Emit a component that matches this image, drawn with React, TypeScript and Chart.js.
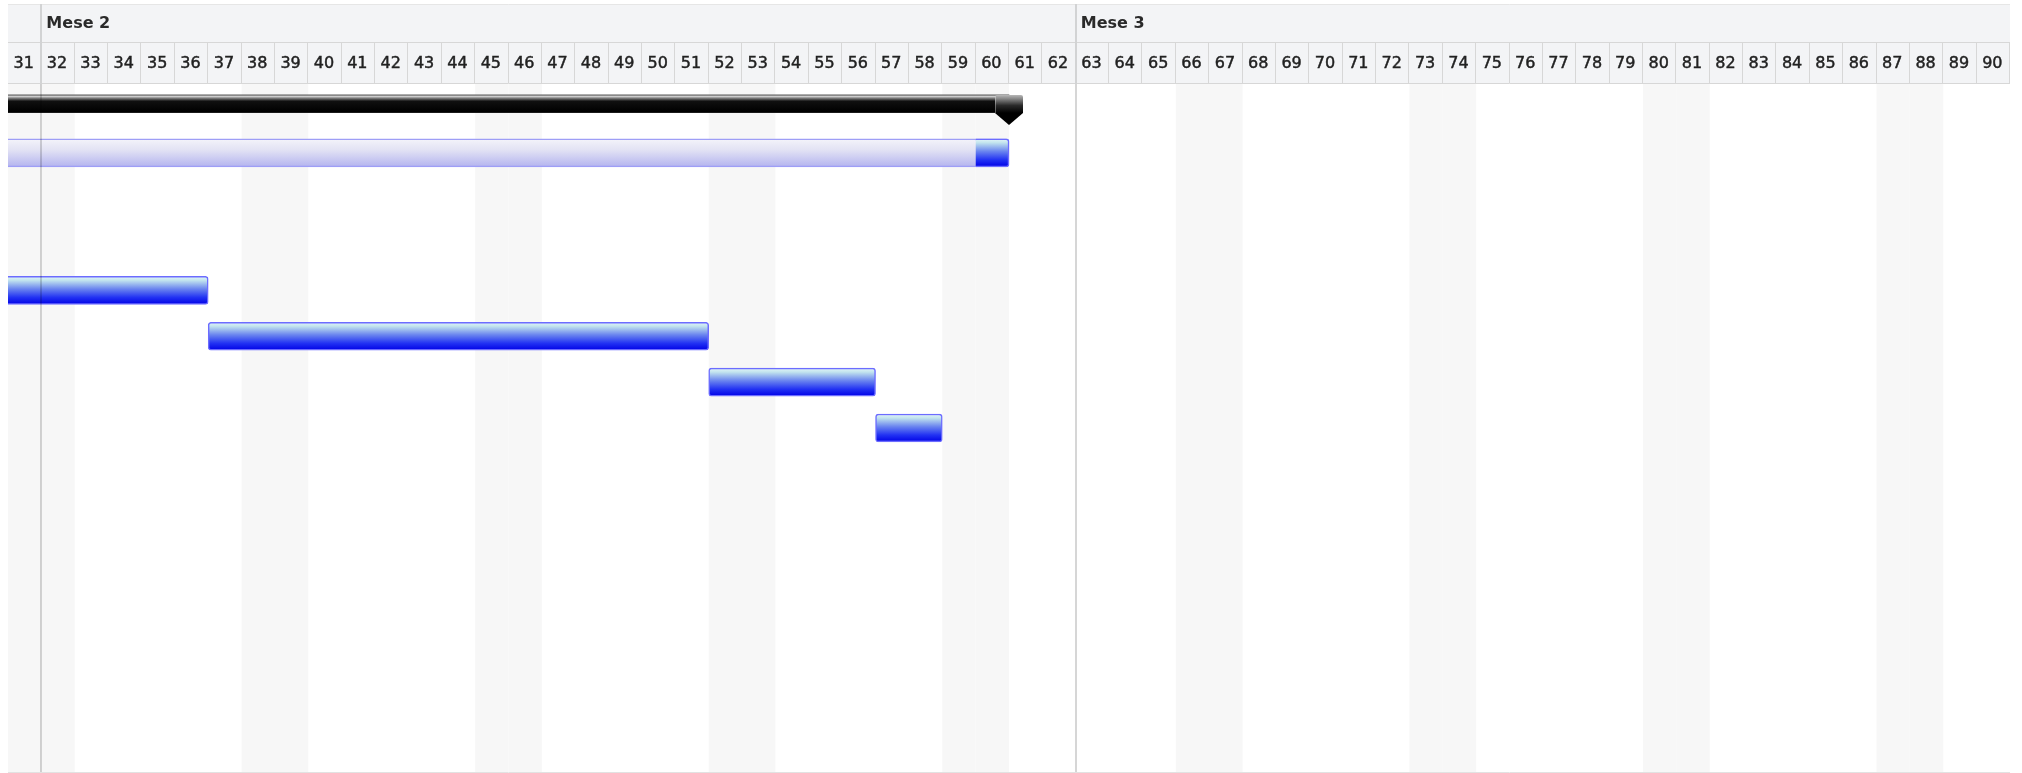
import React, { useEffect, useRef } from "react";
import { Chart, registerables } from "chart.js";

Chart.register(...registerables);

// ---- data ----
const rowLabels = ["R1", "R2", "R3", "R4", "R5", "R6", "R7", "R8", "R9", "R10", "R11", "R12", "R13", "R14", "R15"];
const days = [31, 32, 33, 34, 35, 36, 37, 38, 39, 40, 41, 42, 43, 44, 45, 46, 47, 48, 49, 50, 51, 52, 53, 54, 55, 56, 57, 58, 59, 60, 61, 62, 63, 64, 65, 66, 67, 68, 69, 70, 71, 72, 73, 74, 75, 76, 77, 78, 79, 80, 81, 82, 83, 84, 85, 86, 87, 88, 89, 90];
const weekendDays = [31, 32, 38, 39, 45, 46, 52, 53, 59, 60, 66, 67, 73, 74, 80, 81, 87, 88];
const monthLabels = ["Mese 2", "Mese 3"];
const monthStarts = [32, 63];
const viewStart = 31;
const viewEnd = 91;

const summaryRow = 0;
const summarySpan: [number, number] = [28, 61];
const rollupRow = 1;
const rollupSpan: [number, number] = [28, 61];
const rollupProgress: [number, number] = [60, 61];
const taskRows = [4, 5, 6, 7];
const taskStarts = [28, 37, 52, 57];
const taskEnds = [37, 52, 57, 59];

// ---- styles ----
const HEADER_ROW1 = 38;
const HEADER_BOTTOM = 79;
const TASK_THICK = 28;
const SUMMARY_THICK = 24;

type Stop = [number, string];
const blueStops: Stop[] = [
  [0, "#e4f6f8"],
  [0.14, "#c2e4ee"],
  [0.45, "#6a84ef"],
  [0.75, "#2232f3"],
  [1, "#0000e6"],
];
const lightStops: Stop[] = [
  [0, "#f4f4fa"],
  [0.4, "#e2e2f4"],
  [1, "#b4b4ef"],
];
const blackStops: Stop[] = [
  [0, "#5a5a5a"],
  [0.06, "#d2d2d2"],
  [0.14, "#7a7a7a"],
  [0.26, "#101010"],
  [0.7, "#000000"],
  [0.75, "#2a2a2a"],
  [0.7501, "rgba(0,0,0,0)"],
  [1, "rgba(0,0,0,0)"],
];

function vGrad(chart: any, dataIndex: number, thick: number, stops: Stop[]) {
  const y = chart.scales && chart.scales.y ? chart.scales.y.getPixelForValue(dataIndex) : NaN;
  if (!isFinite(y)) return stops[Math.floor(stops.length / 2)][1];
  const g = chart.ctx.createLinearGradient(0, y - thick / 2, 0, y + thick / 2);
  stops.forEach(([o, c]) => g.addColorStop(o, c));
  return g;
}

const ganttPlugin = {
  id: "ganttDecor",
  beforeDatasetsDraw(chart: any) {
    const { ctx, chartArea, scales } = chart;
    const x = scales.x;
    ctx.save();
    ctx.fillStyle = "#f7f7f7";
    for (const d of weekendDays) {
      const l = x.getPixelForValue(d);
      const r = x.getPixelForValue(d + 1);
      ctx.fillRect(l, chartArea.top, r - l, chartArea.bottom - chartArea.top);
    }
    ctx.restore();
  },
  afterDatasetsDraw(chart: any) {
    const { ctx, chartArea, scales } = chart;
    const x = scales.x;
    const y = scales.y;
    ctx.save();
    // summary end cap
    const xe = x.getPixelForValue(summarySpan[1]);
    const yc = y.getPixelForValue(summaryRow);
    const top = yc - SUMMARY_THICK / 2;
    const halfW = 14;
    const bodyH = 18;
    const tip = 30;
    const g = ctx.createLinearGradient(0, top, 0, top + tip);
    g.addColorStop(0, "#b8b8b8");
    g.addColorStop(0.12, "#8a8a8a");
    g.addColorStop(0.35, "#2a2a2a");
    g.addColorStop(0.6, "#000000");
    g.addColorStop(1, "#000000");
    ctx.beginPath();
    ctx.moveTo(xe - halfW, top + 2);
    ctx.quadraticCurveTo(xe - halfW, top, xe - halfW + 2, top);
    ctx.lineTo(xe + halfW - 2, top);
    ctx.quadraticCurveTo(xe + halfW, top, xe + halfW, top + 2);
    ctx.lineTo(xe + halfW, top + bodyH);
    ctx.lineTo(xe, top + tip);
    ctx.lineTo(xe - halfW, top + bodyH);
    ctx.closePath();
    ctx.fillStyle = g;
    ctx.fill();
    ctx.strokeStyle = "rgba(255,255,255,0.35)";
    ctx.lineWidth = 1;
    ctx.beginPath();
    ctx.moveTo(xe - halfW + 0.5, top + 1);
    ctx.lineTo(xe - halfW + 0.5, top + bodyH);
    ctx.stroke();

    // month separator lines through the chart body
    ctx.strokeStyle = "rgba(0,0,0,0.16)";
    ctx.lineWidth = 2;
    for (const m of monthStarts) {
      const px = Math.round(x.getPixelForValue(m));
      ctx.beginPath();
      ctx.moveTo(px, chartArea.top);
      ctx.lineTo(px, chartArea.bottom);
      ctx.stroke();
    }
    // bottom border
    ctx.strokeStyle = "#e2e2e2";
    ctx.lineWidth = 1;
    ctx.beginPath();
    ctx.moveTo(x.left, chartArea.bottom + 0.5);
    ctx.lineTo(x.right, chartArea.bottom + 0.5);
    ctx.stroke();
    ctx.restore();
  },
  afterDraw(chart: any) {
    const { ctx, scales } = chart;
    const x = scales.x;
    const left = x.left;
    const right = x.right;
    ctx.save();
    ctx.fillStyle = "#f3f4f6";
    ctx.fillRect(left, 0, right - left, HEADER_BOTTOM + 1);
    ctx.lineWidth = 1;
    ctx.strokeStyle = "#e6e6e6";
    ctx.beginPath();
    ctx.moveTo(left, 0.5);
    ctx.lineTo(right, 0.5);
    ctx.stroke();
    ctx.strokeStyle = "#d7d7d7";
    ctx.beginPath();
    ctx.moveTo(left, HEADER_ROW1 + 0.5);
    ctx.lineTo(right, HEADER_ROW1 + 0.5);
    ctx.moveTo(left, HEADER_BOTTOM + 0.5);
    ctx.lineTo(right, HEADER_BOTTOM + 0.5);
    ctx.stroke();
    // day cells
    ctx.beginPath();
    for (const d of days) {
      const px = Math.round(x.getPixelForValue(d + 1)) - 0.5;
      ctx.moveTo(px, HEADER_ROW1);
      ctx.lineTo(px, HEADER_BOTTOM);
    }
    ctx.stroke();
    ctx.fillStyle = "#222222";
    ctx.strokeStyle = "#222222";
    ctx.lineWidth = 0.45;
    ctx.font = '16px "DejaVu Sans"';
    ctx.textAlign = "center";
    ctx.textBaseline = "middle";
    for (const d of days) {
      const cx = x.getPixelForValue(d + 0.5) - 1;
      const cy = (HEADER_ROW1 + HEADER_BOTTOM) / 2 + 1;
      ctx.fillText(String(d), cx, cy);
      ctx.strokeText(String(d), cx, cy);
    }
    // month separators in header
    ctx.strokeStyle = "#d2d3d4";
    ctx.lineWidth = 2;
    for (const m of monthStarts) {
      const px = Math.round(x.getPixelForValue(m));
      ctx.beginPath();
      ctx.moveTo(px, 0);
      ctx.lineTo(px, HEADER_BOTTOM + 1);
      ctx.stroke();
    }
    ctx.textAlign = "left";
    ctx.fillStyle = "#2a2a2a";
    ctx.font = 'bold 16px "DejaVu Sans"';
    monthLabels.forEach((lab, i) => {
      const px = x.getPixelForValue(monthStarts[i]);
      ctx.fillText(lab, px + 5, HEADER_ROW1 / 2 + 1);
    });
    ctx.restore();
  },
};

function spanData(rows: number[], starts: number[], ends: number[]) {
  return rowLabels.map((_, i) => {
    const k = rows.indexOf(i);
    return k >= 0 ? [starts[k], ends[k]] : null;
  });
}

export default function App() {
  const ref = useRef<HTMLCanvasElement | null>(null);
  useEffect(() => {
    if (!ref.current) return;
    const chart = new Chart(ref.current, {
      type: "bar",
      data: {
        labels: rowLabels,
        datasets: [
          {
            label: "Avanzamento",
            data: spanData([rollupRow], [rollupProgress[0]], [rollupProgress[1]]) as any,
            grouped: false,
            barThickness: TASK_THICK,
            backgroundColor: (c: any) => vGrad(c.chart, c.dataIndex, TASK_THICK, blueStops),
            borderColor: "#6c6cff",
            borderWidth: 1.5,
            borderSkipped: "left",
            borderRadius: { topLeft: 0, bottomLeft: 0, topRight: 3, bottomRight: 3 },
            clip: 0,
          } as any,
          {
            label: "Riepilogo",
            data: spanData([rollupRow], [rollupSpan[0]], [rollupSpan[1]]) as any,
            grouped: false,
            barThickness: TASK_THICK,
            backgroundColor: (c: any) => vGrad(c.chart, c.dataIndex, TASK_THICK, lightStops),
            borderColor: "#9e9ef6",
            borderWidth: 1.5,
            borderSkipped: false,
            borderRadius: 3,
            clip: 0,
          } as any,
          {
            label: "Progetto",
            data: spanData([summaryRow], [summarySpan[0]], [summarySpan[1]]) as any,
            grouped: false,
            barThickness: SUMMARY_THICK,
            backgroundColor: (c: any) => vGrad(c.chart, c.dataIndex, SUMMARY_THICK, blackStops),
            borderWidth: 0,
            clip: 0,
          } as any,
          {
            label: "Attività",
            data: spanData(taskRows, taskStarts, taskEnds) as any,
            grouped: false,
            barThickness: TASK_THICK,
            backgroundColor: (c: any) => vGrad(c.chart, c.dataIndex, TASK_THICK, blueStops),
            borderColor: "#6c6cff",
            borderWidth: 1.5,
            borderSkipped: false,
            borderRadius: 3,
            clip: 0,
          } as any,
        ],
      },
      options: {
        indexAxis: "y",
        responsive: false,
        animation: false,
        events: [],
        layout: { padding: { top: HEADER_BOTTOM + 1, bottom: 1, left: 0, right: 0 } },
        plugins: { legend: { display: false }, tooltip: { enabled: false } },
        scales: {
          x: { type: "linear", min: viewStart, max: viewEnd, display: false },
          y: { type: "category", display: false },
        },
      },
      plugins: [ganttPlugin],
    });
    return () => chart.destroy();
  }, []);
  return (
    <div style={{ position: "fixed", left: 8, top: 4, width: 2002, height: 769 }}>
      <canvas ref={ref} width={2002} height={769} style={{ display: "block", width: 2002, height: 769 }} />
    </div>
  );
}
